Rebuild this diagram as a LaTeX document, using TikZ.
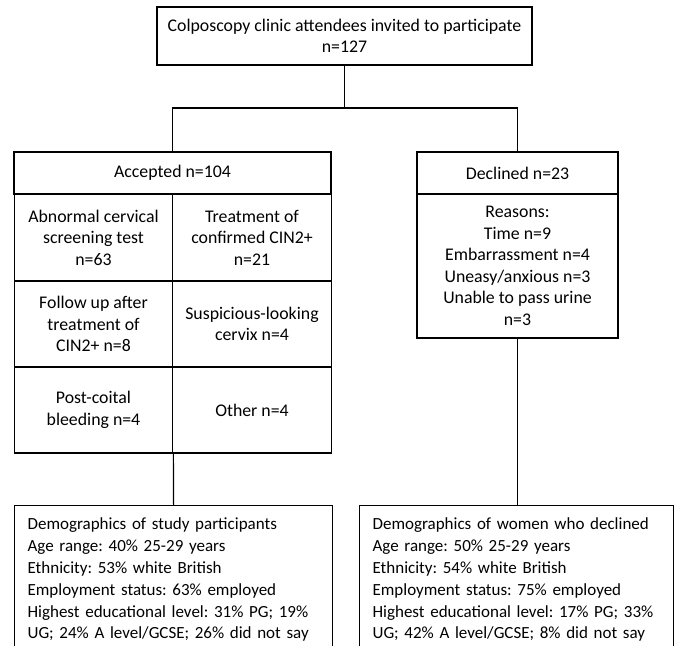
\documentclass[tikz,border=0pt]{standalone}
\usepackage{fontspec}
\setmainfont{Carlito}
\frenchspacing

\begin{document}
\begin{tikzpicture}[x=0.5pt,y=-0.5pt,
    every node/.style={font=\fontsize{8.9}{10.75}\selectfont},
    cell/.style={draw,line width=0.6pt,inner sep=0pt,align=center,minimum width=79.25pt,minimum height=43pt},
    demo/.style={draw,line width=0.6pt,anchor=north west,align=left,inner xsep=6.5pt,inner ysep=6pt,
      font=\fontsize{8.5}{10.95}\selectfont}]
    \useasboundingbox (0,0) rectangle (678,645);
    \clip (0,0) rectangle (678,645);
    \node[cell,minimum width=187.5pt,minimum height=29pt] (Invited) at (344.5,36) {Colposcopy clinic attendees invited to participate\\n=127};
    % accepted side
    \node[cell,minimum width=158.5pt,minimum height=21pt] (Acc) at (172.5,173) {Accepted n=104};
    \node[cell,minimum height=43.5pt] (Abn) at (93.5,237.5) {Abnormal cervical\\screening test\\n=63};
    \node[cell,minimum height=43.5pt] (Treat) at (252,237.5) {Treatment of\\confirmed CIN2+\\n=21};
    \node[cell] (Follow) at (93.5,324) {Follow up after\\treatment of\\CIN2+ n=8};
    \node[cell] (Susp) at (252,324) {Suspicious-looking\\cervix n=4};
    \node[cell] (Post) at (93.5,410) {Post-coital\\bleeding n=4};
    \node[cell] (Other) at (252,410) {Other n=4};
    % declined side
    \node[cell,minimum width=100.5pt,minimum height=21pt] (Dec) at (517.5,173) {Declined n=23};
    \node[cell,minimum width=100.5pt,minimum height=72pt] (Reasons) at (517.5,266) {Reasons:\\Time n=9\\Embarrassment n=4\\Uneasy/anxious n=3\\Unable to pass urine\\n=3};
    % demographics, open at the bottom edge
    \node[demo,text width=146pt] (ParDemo) at (14,505) {\mbox{Demographics of study participants}\\\mbox{Age range: 40\% 25-29 years}\\\mbox{Ethnicity: 53\% white British}\\\mbox{Employment status: 63\% employed}\\\mbox{Highest educational level: 31\% PG; 19\%}\\\mbox{UG; 24\% A level/GCSE; 26\% did not say}\rule[-20pt]{0pt}{0pt}};
    \node[demo,text width=144pt] (DecDemo) at (359,505) {\mbox{Demographics of women who declined}\\\mbox{Age range: 50\% 25-29 years}\\\mbox{Ethnicity: 54\% white British}\\\mbox{Employment status: 75\% employed}\\\mbox{Highest educational level: 17\% PG; 33\%}\\\mbox{UG; 42\% A level/GCSE; 8\% did not say}\rule[-20pt]{0pt}{0pt}};
    \coordinate (split) at (344.5,108);
    \draw[line width=0.6pt] (Invited.south) -- (split);
    \draw[line width=0.6pt] (Acc.north) |- (split) -| (Dec.north);
    \draw[line width=0.6pt] (Post.south east) -- (ParDemo.north);
    \draw[line width=0.6pt] (Reasons.south) -- (Reasons.south |- DecDemo.north);
\end{tikzpicture}
\end{document}
